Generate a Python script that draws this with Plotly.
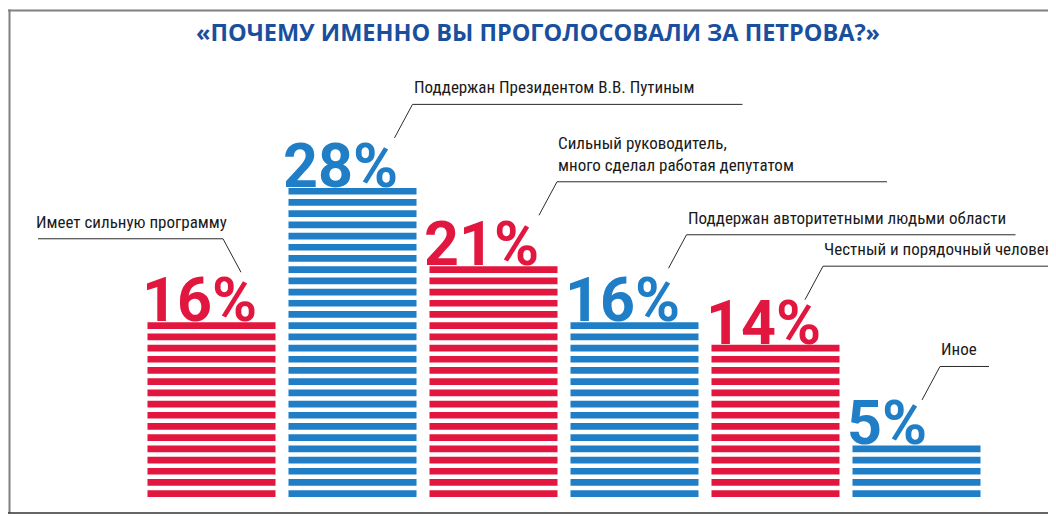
import plotly.graph_objects as go

# ---------------- data ----------------
title = "«ПОЧЕМУ ИМЕННО ВЫ ПРОГОЛОСОВАЛИ ЗА ПЕТРОВА?»"
categories = [
    "Имеет сильную программу",
    "Поддержан Президентом В.В. Путиным",
    "Сильный руководитель,<br>много сделал работая депутатом",
    "Поддержан авторитетными людьми области",
    "Честный и порядочный человек",
    "Иное",
]
values = [16, 28, 21, 16, 14, 5]
value_labels = ["16%", "28%", "21%", "16%", "14%", "5%"]

# ---------------- style ----------------
RED = "#e2173f"
BLUE = "#1f7ec6"
colors = [RED, BLUE, RED, BLUE, RED, BLUE]
STRIPE = 0.6          # stripe thickness (in units of one percent)
BAR_W = 0.908
PX_X = 141.0          # pixels per category
PX_Y = 11.2           # pixels per percent
OFF = 8               # page body margin
X0_PX, Y0_PX = 211.5 - OFF, 497.0 - OFF
W, H = 1056 - OFF, 516 - OFF
LABEL_FONT = "Liberation Sans Narrow, Roboto Condensed, DejaVu Sans Condensed, Roboto"

# leader-line layout per label: (dx of diagonal foot from bar centre, height of foot above bar top,
#                                direction of underline, underline length) all in pixels
leaders = [
    (29.5, 50, -1, 185),
    (42, 50, 1, 330),
    (45.5, 51, 1, 330),
    (34, 54, 1, 329),
    (29.5, 45, 1, 260),
    (5.5, 45.5, 1, 49),
]
DIAG_DX, DIAG_DY = 18, 33.5

fig = go.Figure()

for i, (v, c) in enumerate(zip(values, colors)):
    fig.add_trace(go.Bar(
        x=[i] * v,
        base=list(range(v)),
        y=[STRIPE] * v,
        width=BAR_W,
        marker=dict(color=c, line=dict(width=0)),
        hoverinfo="skip",
        showlegend=False,
    ))

annotations = []
shapes = []
for i, (v, lab, cat, c) in enumerate(zip(values, value_labels, categories, colors)):
    top = v - 1 + STRIPE
    annotations.append(dict(
        x=i - BAR_W / 2, y=top, xref="x", yref="y",
        text=lab, showarrow=False, xanchor="left", yanchor="bottom",
        xshift=-6, yshift=-15, borderpad=0,
        font=dict(family="Roboto", size=61, color=c, weight=700),
    ))
    dx, dy, direction, length = leaders[i]
    fx, fy = dx, dy
    tx, ty = dx + direction * DIAG_DX, dy + DIAG_DY
    shapes.append(dict(
        type="line", xref="x", yref="y", xsizemode="pixel", ysizemode="pixel",
        xanchor=i, yanchor=top, x0=fx, y0=fy, x1=tx, y1=ty,
        line=dict(color="#2b2b2b", width=1),
    ))
    shapes.append(dict(
        type="line", xref="x", yref="y", xsizemode="pixel", ysizemode="pixel",
        xanchor=i, yanchor=top, x0=tx, y0=ty, x1=tx + direction * length, y1=ty,
        line=dict(color="#2b2b2b", width=1),
    ))
    annotations.append(dict(
        x=i, y=top, xref="x", yref="y",
        text=cat, showarrow=False,
        xanchor="left" if direction > 0 else "right", yanchor="bottom", align="left",
        xshift=tx + (0 if direction > 0 else 5), yshift=ty + 6, borderpad=0,
        font=dict(family=LABEL_FONT, size=17, color="#1a1a1a"),
    ))

annotations.append(dict(
    x=(538 - OFF) / W, y=1 - (32 - OFF) / H, xref="paper", yref="paper",
    text=title, showarrow=False, xanchor="center", yanchor="middle",
    font=dict(family="Open Sans", size=23.5, color="#1a4f9e", weight=700),
))

# frame
shapes += [
    dict(type="line", xref="paper", yref="paper", x0=0, x1=1,
         y0=1 - (10.5 - OFF) / H, y1=1 - (10.5 - OFF) / H,
         line=dict(color="#808080", width=2)),
    dict(type="line", xref="paper", yref="paper", x0=1.5 / W, x1=1.5 / W,
         y0=1 - (9.5 - OFF) / H, y1=1 - (513 - OFF) / H,
         line=dict(color="#808080", width=2)),
    dict(type="line", xref="paper", yref="paper", x0=0, x1=1,
         y0=1 - (513 - OFF) / H, y1=1 - (513 - OFF) / H,
         line=dict(color="#333333", width=1.5)),
]

fig.update_layout(
    width=W, height=H,
    margin=dict(l=0, r=0, t=0, b=0),
    paper_bgcolor="white", plot_bgcolor="white",
    barmode="overlay",
    showlegend=False,
    xaxis=dict(range=[(0 - X0_PX) / PX_X, (W - X0_PX) / PX_X], visible=False, fixedrange=True),
    yaxis=dict(range=[(Y0_PX - H) / PX_Y, Y0_PX / PX_Y], visible=False, fixedrange=True),
    annotations=annotations,
    shapes=shapes,
)

fig.write_html("out.html")
